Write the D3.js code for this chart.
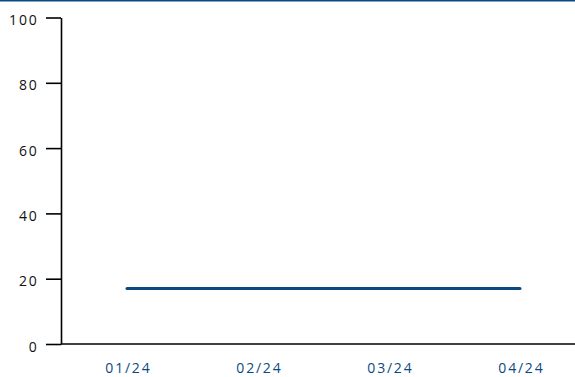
<!DOCTYPE html>
<html>
<head>
<meta charset="utf-8">
<script src="https://cdn.jsdelivr.net/npm/d3@7/dist/d3.min.js"></script>
<style>
  html, body { margin: 0; padding: 0; background: #fff; }
  svg { display: block; }
  .tick text { font-family: "Open Sans", sans-serif; }
</style>
</head>
<body>
<svg id="chart" width="575" height="377"></svg>
<script>
// Monthly values
const months = ["01/24", "02/24", "03/24", "04/24"];
const values = [17, 17, 17, 17];
const yTicks = [0, 20, 40, 60, 80, 100];

const W = 575, H = 377;
const margin = { left: 61, top: 17.5, bottom: 33 };
const blue = "#0b4a80";

const svg = d3.select("#chart");

// Top rule
svg.append("rect").attr("x", 0).attr("y", 0).attr("width", W).attr("height", 1.5).attr("fill", blue);

const x = d3.scalePoint().domain(months).range([127, 520]);
const y = d3.scaleLinear().domain([0, 100]).range([H - margin.bottom, margin.top]);

// Y axis
const yAxis = svg.append("g")
  .attr("transform", `translate(${margin.left},0)`)
  .call(d3.axisLeft(y).tickValues(yTicks).tickSize(15).tickPadding(7.5).tickSizeOuter(0));
yAxis.select(".domain").attr("stroke", "#000").attr("stroke-width", 1.6);
yAxis.selectAll(".tick line").attr("stroke", "#000").attr("stroke-width", 1.6);
yAxis.selectAll(".tick text").attr("fill", "#111").attr("font-size", 14)
  .attr("letter-spacing", 1.8).attr("dy", "0.5em");

// X axis baseline
svg.append("line")
  .attr("x1", margin.left).attr("x2", W)
  .attr("y1", y(0)).attr("y2", y(0))
  .attr("stroke", "#000").attr("stroke-width", 1.6);

// X labels
const xAxis = svg.append("g")
  .attr("transform", `translate(0,${y(0)})`)
  .call(d3.axisBottom(x).tickSize(0).tickPadding(19));
xAxis.select(".domain").remove();
xAxis.selectAll(".tick text").attr("fill", blue).attr("font-size", 14).attr("letter-spacing", 1.8).attr("dx", 0.9);

// Series line
const line = d3.line().x((d, i) => x(months[i])).y(d => y(d));
svg.append("path")
  .datum(values)
  .attr("d", line)
  .attr("fill", "none")
  .attr("stroke", blue)
  .attr("stroke-width", 3)
  .attr("stroke-linecap", "round");
</script>
</body>
</html>
